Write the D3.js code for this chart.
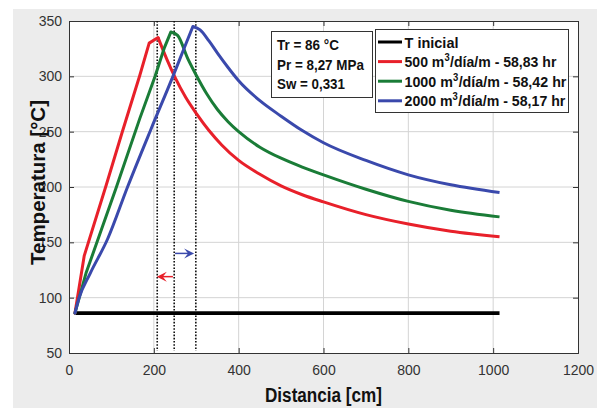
<!DOCTYPE html>
<html>
<head>
<meta charset="utf-8">
<script src="https://cdn.jsdelivr.net/npm/d3@7"></script>
<style>
  html, body { margin: 0; padding: 0; background: #fff; }
  svg { display: block; font-family: "Liberation Sans", Arial, sans-serif; }
</style>
</head>
<body>
<svg id="chart" width="599" height="408"></svg>
<script>
// ----- data -----
const xTicks = [0, 200, 400, 600, 800, 1000, 1200];
const yTicks = [50, 100, 150, 200, 250, 300, 350];

// initial temperature (flat line)
const tInicial = [[16, 86], [1015, 86]];

// 500 m3/dia/m
const q500 = [[14, 86], [36, 138], [88, 202], [125, 249], [167, 301], [189, 330], [210, 335],
  [230, 316], [250, 299], [275, 281], [300, 266.5], [330, 251], [360, 238], [400, 224], [450, 211.5],
  [500, 201], [550, 193], [600, 186.5], [700, 175], [800, 166.5], [900, 160], [1015, 155]];

// 1000 m3/dia/m
const q1000 = [[14, 86], [40, 122], [111, 199], [167, 262], [203, 300], [225, 326], [240, 340],
  [256, 337], [280, 316], [300, 301], [325, 284], [350, 270], [375, 259], [400, 250], [450, 236],
  [500, 226], [550, 218], [600, 211], [700, 198], [800, 187], [900, 179], [1015, 173]];

// 2000 m3/dia/m
const q2000 = [[14, 86], [24, 100], [50, 122], [91, 153], [138, 200], [193, 252], [245, 300],
  [270, 324], [292, 345], [309, 342], [330, 332], [350, 321], [375, 308], [400, 296], [450, 278],
  [500, 264], [550, 251], [600, 240], [700, 224], [800, 211], [900, 202], [1015, 195]];

// dotted markers at the peaks
const peakLines = [208, 248, 299];

// arrows: [x from, x to, y]
const arrowRed = [245, 207, 119];
const arrowBlue = [250, 295, 140];

const infoLines = ['Tr = 86 °C', 'Pr = 8,27 MPa', 'Sw = 0,331'];
const legendItems = [
  { label: 'T inicial', color: '#000000' },
  { label: '500', tail: '58,83 hr', color: '#e8202a' },
  { label: '1000', tail: '58,42 hr', color: '#1a7c37' },
  { label: '2000', tail: '58,17 hr', color: '#3a49ac' }
];

// ----- layout -----
const svg = d3.select('#chart');
const plot = { left: 69, right: 578, top: 21, bottom: 353 };

const x = d3.scaleLinear().domain([0, 1200]).range([plot.left, plot.right]);
const y = d3.scaleLinear().domain([50, 350]).range([plot.bottom, plot.top]);

// figure background (matlab gray)
svg.append('rect').attr('x', 13).attr('y', 9).attr('width', 584).attr('height', 399).attr('fill', '#ececec');
svg.append('rect')
  .attr('x', plot.left).attr('y', plot.top)
  .attr('width', plot.right - plot.left).attr('height', plot.bottom - plot.top)
  .attr('fill', '#fff');

// grid
const grid = svg.append('g').attr('stroke', '#d4d4d4').attr('stroke-width', 1);
grid.selectAll('.gx').data(xTicks.slice(1, -1)).join('line')
  .attr('x1', d => x(d)).attr('x2', d => x(d))
  .attr('y1', plot.top).attr('y2', plot.bottom);
grid.selectAll('.gy').data(yTicks.slice(1, -1)).join('line')
  .attr('x1', plot.left).attr('x2', plot.right)
  .attr('y1', d => y(d)).attr('y2', d => y(d));

// axes (ticks pointing inward, like matlab)
const axisColor = '#333';
const xAxis = svg.append('g').attr('transform', `translate(0,${plot.bottom})`)
  .call(d3.axisBottom(x).tickValues(xTicks).tickSize(-5).tickPadding(12).tickFormat(d3.format('d')));
const yAxis = svg.append('g').attr('transform', `translate(${plot.left},0)`)
  .call(d3.axisLeft(y).tickValues(yTicks).tickSize(-5).tickPadding(7).tickFormat(d3.format('d')));
const xTop = svg.append('g').attr('transform', `translate(0,${plot.top})`)
  .call(d3.axisTop(x).tickValues(xTicks).tickSize(-5).tickFormat(''));
const yRight = svg.append('g').attr('transform', `translate(${plot.right},0)`)
  .call(d3.axisRight(y).tickValues(yTicks).tickSize(-5).tickFormat(''));

[xAxis, yAxis, xTop, yRight].forEach(g => {
  g.select('.domain').attr('stroke', axisColor);
  g.selectAll('.tick line').attr('stroke', axisColor);
  g.selectAll('.tick text').attr('fill', '#333').attr('font-size', 14)
    .attr('font-family', '"Liberation Sans", Arial, sans-serif');
});

// dotted peak markers
svg.append('g').selectAll('line').data(peakLines).join('line')
  .attr('x1', d => x(d)).attr('x2', d => x(d))
  .attr('y1', y(350)).attr('y2', y(52))
  .attr('stroke', '#111').attr('stroke-width', 1.6)
  .attr('stroke-dasharray', '1.6,1.6');

// curves: straight rise, smooth decay after the peak
const riseLine = d3.line().x(d => x(d[0])).y(d => y(d[1]));
const smoothLine = d3.line().x(d => x(d[0])).y(d => y(d[1])).curve(d3.curveMonotoneX);

svg.append('path').datum(tInicial).attr('d', riseLine)
  .attr('fill', 'none').attr('stroke', '#000').attr('stroke-width', 3.6);

const seriesData = [q500, q1000, q2000];
seriesData.forEach((s, i) => {
  const peak = d3.maxIndex(s, d => d[1]);
  const color = legendItems[i + 1].color;
  const g = svg.append('g').attr('fill', 'none').attr('stroke', color)
    .attr('stroke-width', 3).attr('stroke-linejoin', 'round').attr('stroke-linecap', 'round');
  // the blue rise bends softly, the others are nearly straight
  g.append('path').datum(s.slice(0, peak + 1)).attr('d', i === 2 ? smoothLine : riseLine);
  g.append('path').datum(s.slice(peak)).attr('d', smoothLine).attr('stroke-linecap', 'butt');
});

// arrows
function drawArrow([x0, x1, yy], color) {
  const g = svg.append('g');
  const dir = Math.sign(x1 - x0);
  g.append('line')
    .attr('x1', x(x0)).attr('x2', x(x1) - dir * 4)
    .attr('y1', y(yy)).attr('y2', y(yy))
    .attr('stroke', color).attr('stroke-width', 1.5);
  const tx = x(x1), ty = y(yy);
  g.append('path')
    .attr('d', `M${tx},${ty} L${tx - dir * 10},${ty - 5} L${tx - dir * 6},${ty} L${tx - dir * 10},${ty + 5} Z`)
    .attr('fill', color);
}
drawArrow(arrowRed, legendItems[1].color);
drawArrow(arrowBlue, legendItems[3].color);

// axis titles
svg.append('text')
  .attr('x', 265).attr('y', 402)
  .attr('font-size', 20).attr('font-weight', 'bold').attr('fill', '#111')
  .attr('textLength', 117).attr('lengthAdjust', 'spacingAndGlyphs')
  .text('Distancia [cm]');
svg.append('text')
  .attr('transform', 'translate(45,265) rotate(-90)')
  .attr('font-size', 20).attr('font-weight', 'bold').attr('fill', '#111')
  .attr('textLength', 165).attr('lengthAdjust', 'spacingAndGlyphs')
  .text('Temperatura [°C]');

// condensed bold text: squeeze a group horizontally to a target width
function condensed(parent, x0, baseline, parts, target) {
  const g = parent.append('g');
  let cx = 0;
  parts.forEach(p => {
    const t = g.append('text').attr('x', cx).attr('y', p.sup ? -6 : 0)
      .attr('font-size', p.sup ? 10 : 15).attr('font-weight', 'bold').attr('fill', '#111')
      .text(p.text);
    cx += t.node().getComputedTextLength() + (p.sup ? 0.5 : 0);
  });
  const k = target / cx;
  g.attr('transform', `translate(${x0},${baseline}) scale(${k},1)`);
  return g;
}

// info box
svg.append('rect').attr('x', 271.5).attr('y', 31.5).attr('width', 101).attr('height', 66)
  .attr('fill', '#fff').attr('stroke', '#333').attr('stroke-width', 1);
const infoWidths = [62, 87, 68];
infoLines.forEach((d, i) => condensed(svg, 277, 50 + i * 19.5, [{ text: d }], infoWidths[i]));

// legend
svg.append('rect').attr('x', 375.5).attr('y', 29.5).attr('width', 193).attr('height', 83)
  .attr('fill', '#fff').attr('stroke', '#333').attr('stroke-width', 1);
const legendWidths = [54, 152, 162, 161];
const lg = svg.append('g');
legendItems.forEach((item, i) => {
  const cy = 42 + i * 19.6;
  lg.append('line').attr('x1', 378).attr('x2', 402).attr('y1', cy).attr('y2', cy)
    .attr('stroke', item.color).attr('stroke-width', 3);
  const parts = item.tail
    ? [{ text: `${item.label} m` }, { text: '3', sup: true }, { text: `/día/m - ${item.tail}` }]
    : [{ text: item.label }];
  condensed(lg, 404.5, cy + 5.5, parts, legendWidths[i]);
});
</script>
</body>
</html>
